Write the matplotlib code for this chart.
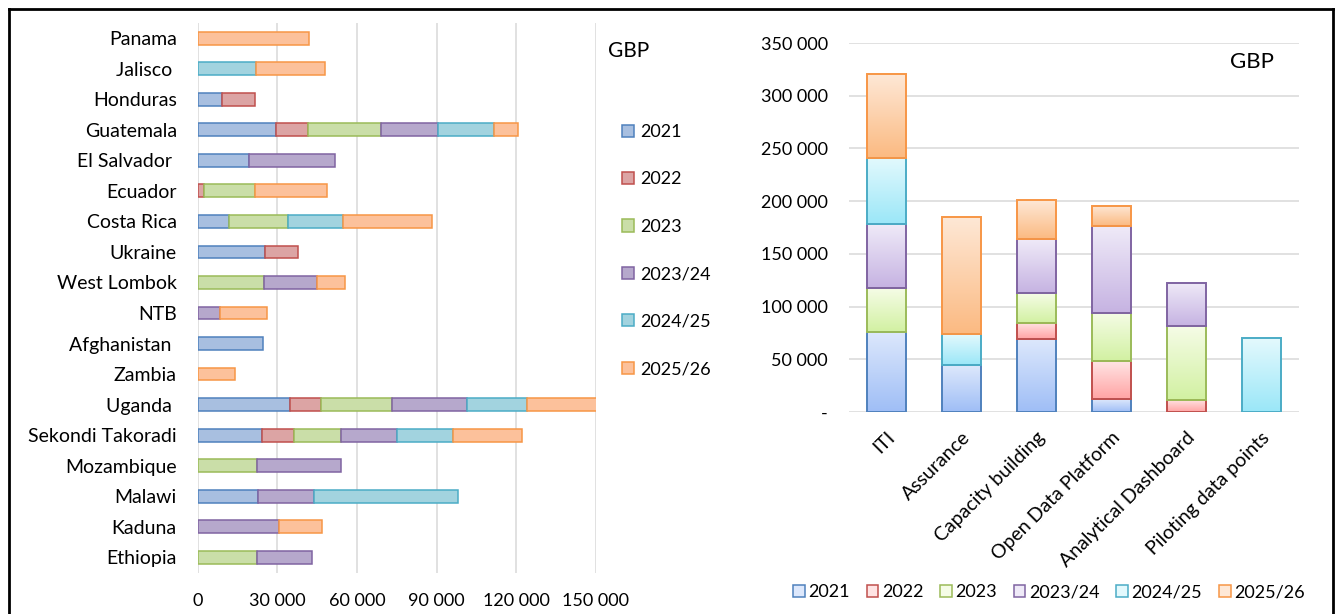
import numpy as np
import matplotlib
matplotlib.use("Agg")
import matplotlib.pyplot as plt
from matplotlib.patches import Patch
from matplotlib.lines import Line2D
from matplotlib.colors import to_rgb

# ---------------- data ----------------
series = ["2021", "2022", "2023", "2023/24", "2024/25", "2025/26"]

countries = ["Panama", "Jalisco ", "Honduras", "Guatemala", "El Salvador ", "Ecuador",
             "Costa Rica", "Ukraine", "West Lombok", "NTB", "Afghanistan ", "Zambia",
             "Uganda ", "Sekondi Takoradi", "Mozambique", "Malawi", "Kaduna", "Ethiopia"]
c_2021 = [0, 0, 9200, 29600, 19500, 0, 11600, 25300, 0, 0, 24700, 0, 34700, 24400, 0, 22600, 0, 0]
c_2022 = [0, 0, 12400, 11900, 0, 2500, 0, 12400, 0, 0, 0, 0, 11800, 11900, 0, 0, 0, 0]
c_2023 = [0, 0, 0, 27700, 0, 18900, 22300, 0, 25000, 0, 0, 0, 26600, 17500, 22500, 0, 0, 22300]
c_2324 = [0, 0, 0, 21300, 32300, 0, 0, 0, 20000, 8500, 0, 0, 28500, 21100, 31400, 21200, 30500, 20700]
c_2425 = [0, 22000, 0, 21200, 0, 0, 20700, 0, 0, 0, 0, 0, 22600, 21400, 0, 54300, 0, 0]
c_2526 = [42000, 26000, 0, 9100, 0, 27400, 33800, 0, 10300, 17700, 0, 14000, 26300, 25700, 0, 0, 16400, 0]
left_ticks = [0, 30000, 60000, 90000, 120000, 150000]
left_ticklabels = ["0", "30 000", "60 000", "90 000", "120 000", "150 000"]

activities = ["ITI", "Assurance", "Capacity building", "Open Data Platform",
              "Analytical Dashboard", "Piloting data points"]
a_2021 = [76100, 44500, 69500, 12300, 0, 0]
a_2022 = [0, 0, 15200, 36000, 11700, 0]
a_2023 = [41700, 0, 28400, 45800, 69800, 0]
a_2324 = [60100, 0, 50900, 82200, 41100, 0]
a_2425 = [63100, 29400, 0, 0, 0, 69800]
a_2526 = [80000, 111500, 36900, 19200, 0, 0]
right_ticks = [0, 50000, 100000, 150000, 200000, 250000, 300000, 350000]
right_ticklabels = ["-", "50 000", "100 000", "150 000", "200 000", "250 000", "300 000", "350 000"]

# ---------------- styles ----------------
edge_cols = ["#4f81bd", "#c0504d", "#9bbb59", "#8064a2", "#4bacc6", "#f79646"]
flat_cols = ["#a8bfe0", "#dca4a4", "#cadea8", "#b6a8cc", "#a2d3df", "#fcc19b"]
grad_top = ["#dde8fc", "#ffe4e4", "#f5fce6", "#efeaf8", "#e3f9fd", "#fee8d6"]
grad_bot = ["#9fbef6", "#ffa4a4", "#d2f1a2", "#c6b3e2", "#9be7f8", "#fbba82"]

plt.rcParams['font.family'] = ['Lato', 'DejaVu Sans']
FS = 13      # numbers / legends
FSC = 14     # category labels
W, H = 1338, 614
fig = plt.figure(figsize=(W / 100, H / 100), dpi=100)

# ---------------- left chart ----------------
axL = fig.add_axes([197.7 / W, (H - 572.5) / H, (596 - 197.7) / W, (572.5 - 23) / H])
y = np.arange(len(countries))
left = np.zeros(len(countries))
for vals, ec, fc in zip([c_2021, c_2022, c_2023, c_2324, c_2425, c_2526], edge_cols, flat_cols):
    v = np.array(vals, dtype=float)
    m = v > 0
    axL.barh(y[m], v[m], left=left[m], height=0.42, color=fc, edgecolor=ec,
             linewidth=1.1, zorder=3)
    left += v
axL.set_ylim(len(countries) - 0.5, -0.5)
axL.set_xlim(0, 150000)
axL.set_yticks(y)
axL.set_yticklabels(countries, fontsize=FSC)
axL.set_xticks(left_ticks)
axL.set_xticklabels(left_ticklabels, fontsize=FS)
axL.tick_params(axis='both', length=0)
axL.tick_params(axis='y', pad=15)
axL.tick_params(axis='x', pad=15)
axL.grid(axis='x', color='#d9d9d9', linewidth=1.1, zorder=0)
axL.set_axisbelow(True)
for s in axL.spines.values():
    s.set_visible(False)

handlesL = [Patch(facecolor=fc, edgecolor=ec, linewidth=1.1) for fc, ec in zip(flat_cols, edge_cols)]
fig.legend(handlesL, series, loc='upper left', bbox_to_anchor=(622 / W, (H - 124) / H),
           frameon=False, fontsize=FS, handlelength=0.65, handleheight=0.65,
           handletextpad=0.35, labelspacing=1.74, borderaxespad=0, borderpad=0)
fig.text(608 / W, (H - 51) / H, "GBP", fontsize=15, ha='left', va='center')

# ---------------- right chart ----------------
axR = fig.add_axes([848.6 / W, (H - 412) / H, (1298.5 - 848.6) / W, (412 - 43) / H])
x = np.arange(len(activities))
bottom = np.zeros(len(activities))
N = 64
for vals, ec, ct, cb in zip([a_2021, a_2022, a_2023, a_2324, a_2425, a_2526], edge_cols, grad_top, grad_bot):
    v = np.array(vals, dtype=float)
    m = v > 0
    bars = axR.bar(x[m], v[m], bottom=bottom[m], width=0.52, facecolor='none',
                   edgecolor=ec, linewidth=1.4, zorder=3)
    t = np.linspace(0, 1, N)[:, None]
    grad = (1 - t) * np.array(to_rgb(cb)) + t * np.array(to_rgb(ct))
    grad = grad[:, None, :]
    for b in bars:
        x0, y0 = b.get_x(), b.get_y()
        axR.imshow(grad, extent=(x0, x0 + b.get_width(), y0, y0 + b.get_height()),
                   origin='lower', aspect='auto', interpolation='bilinear', zorder=2)
    bottom += v
axR.set_xlim(-0.5, len(activities) - 0.5)
axR.set_ylim(0, 350000)
axR.set_yticks(right_ticks)
axR.set_yticklabels(right_ticklabels, fontsize=FS)
axR.set_xticks(x)
axR.set_xticklabels(activities, fontsize=FSC, rotation=45, ha='right', va='top',
                    rotation_mode='anchor')
axR.tick_params(axis='both', length=0)
axR.tick_params(axis='y', pad=15)
axR.tick_params(axis='x', pad=12)
axR.grid(axis='y', color='#d9d9d9', linewidth=1.1, zorder=0)
axR.set_axisbelow(True)
for s in axR.spines.values():
    s.set_visible(False)

handlesR = [Patch(facecolor=ct, edgecolor=ec, linewidth=1.1) for ct, ec in zip(grad_top, edge_cols)]
fig.legend(handlesR, series, loc='center', bbox_to_anchor=(1049 / W, (H - 592) / H),
           ncol=6, frameon=False, fontsize=FS, handlelength=0.65, handleheight=0.65,
           handletextpad=0.2, columnspacing=0.92, borderaxespad=0, borderpad=0)
fig.text(1230 / W, (H - 62) / H, "GBP", fontsize=16, ha='left', va='center')

# ---------------- frame ----------------
xl, xr, yt = 8.7 / W, 1332.5 / W, (H - 9) / H
fig.add_artist(Line2D([xl, xl], [0, yt], transform=fig.transFigure, color='black', lw=2))
fig.add_artist(Line2D([xr, xr], [0, yt], transform=fig.transFigure, color='black', lw=2))
fig.add_artist(Line2D([xl, xr], [yt, yt], transform=fig.transFigure, color='black', lw=2,
                      solid_capstyle='projecting'))

fig.savefig("out.png", dpi=100)
